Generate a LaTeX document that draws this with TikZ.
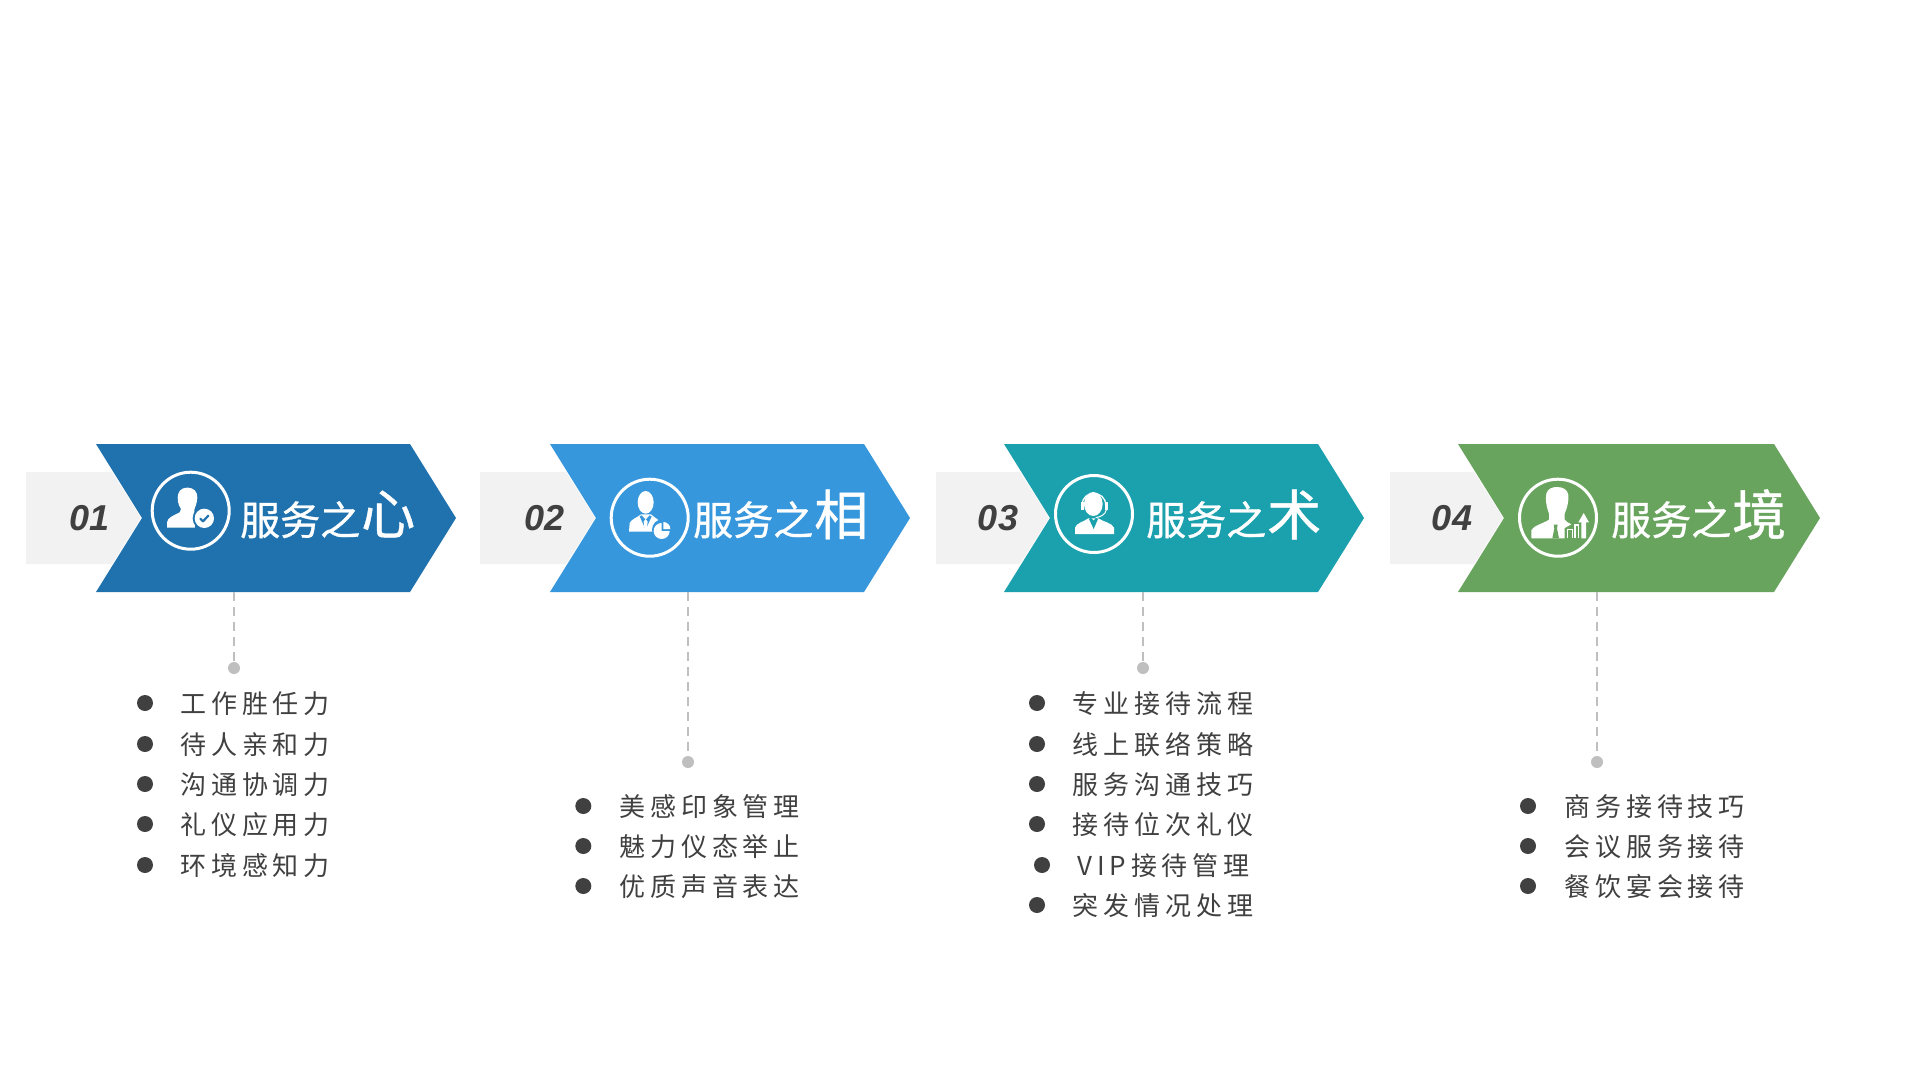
\documentclass[tikz,border=0pt]{standalone}
\usepackage{fontspec}
\setmainfont{Liberation Sans}
\newfontfamily\cjkbody[LetterSpace=19]{Noto Sans CJK SC}
\newfontfamily\cjktitle[FakeBold=0.8]{Noto Sans CJK SC}
\definecolor{bluedark}{HTML}{2072AE}
\definecolor{bluelight}{HTML}{3797DD}
\definecolor{tealc}{HTML}{1BA1AE}
\definecolor{greenc}{HTML}{69A45E}
\definecolor{tabgray}{HTML}{F2F2F2}
\definecolor{ink}{HTML}{404040}
\definecolor{leadergray}{HTML}{BFBFBF}
\tikzset{
  numlabel/.style={inner sep=0pt,text=ink,font=\fontsize{36}{36}\selectfont\bfseries\itshape},
  titlesmall/.style={anchor=base west,inner sep=0pt,text=white,font=\fontsize{40}{40}\selectfont\cjktitle},
  titlebig/.style={anchor=base west,inner sep=0pt,text=white,font=\fontsize{54}{54}\selectfont\cjktitle},
  item/.style={anchor=base west,inner sep=0pt,text=ink,font=\fontsize{26}{26}\selectfont\cjkbody},
  bullet/.style={circle,fill=ink,inner sep=0pt,minimum size=16pt},
  enddot/.style={circle,fill=leadergray,inner sep=0pt,minimum size=12pt},
  leader/.style={draw=leadergray,line width=2pt,dash pattern=on 9pt off 6pt},
  ring/.style={circle,draw=white,line width=3pt,inner sep=0pt,minimum size=77pt},
  iconlocal/.style={x=0.33333pt,y=-0.33333pt},
}
% #1 tab left, #2 chevron left, #3 chevron shoulder right, #4 colour
\newcommand{\ChevBox}[4]{%
  \fill[tabgray] (#1,472) -- ({#2+16},472) -- ({#2+45},518) -- ({#2+16},564) -- (#1,564) -- cycle;
  \fill[#4] (#2,444) -- (#3,444) -- ({#3+46},518) -- (#3,592) -- (#2,592) -- ({#2+46},518) -- cycle;
}
\begin{document}
\begin{tikzpicture}[x=1pt,y=-1pt]
\useasboundingbox[fill=white] (0,0) rectangle (1920,1080);

\ChevBox{26}{96}{410}{bluedark}
\ChevBox{480}{550}{864}{bluelight}
\ChevBox{936}{1004}{1318}{tealc}
\ChevBox{1390}{1458}{1774}{greenc}

\node[numlabel] (n1) at (89.5,518) {01};
\node[numlabel] (n2) at (544.5,518) {02};
\node[numlabel] (n3) at (998,518) {03};
\node[numlabel] (n4) at (1452,518) {04};

\node[ring] (r1) at (190.7,510.7) {};
\node[ring] (r2) at (649.7,517.7) {};
\node[ring] (r3) at (1094,514) {};
\node[ring] (r4) at (1558,517.7) {};

% icon 1
\begin{scope}[shift={(145,465)},iconlocal]
  \fill[white] (66,188) -- (66,172) .. controls (68,158) and (84,152) .. (104,142)
    -- (108,132) .. controls (98,118) and (96,100) .. (100,86)
    .. controls (104,72) and (118,67) .. (130,68)
    .. controls (146,69) and (158,80) .. (157,98)
    .. controls (156,116) and (150,126) .. (148,134) -- (150,188) -- cycle;
  \fill[bluedark] (178,160) circle (35);
  \fill[white] (178,160) circle (29);
  \draw[bluedark,line width=2.2pt,line cap=round,line join=round] (166,161) -- (174,169) -- (190,152);
\end{scope}
% icon 2
\begin{scope}[shift={(605,473)},iconlocal]
  \fill[white] (72,176) -- (74,150) .. controls (80,138) and (96,134) .. (108,124)
    -- (138,124) .. controls (148,134) and (160,138) .. (168,150) -- (168,176) -- cycle;
  \fill[bluelight] (104,130) -- (122,170) -- (140,130) -- (134,127) -- (122,140) -- (110,127) -- cycle;
  \fill[white] (122,138) -- (128,146) -- (125,172) -- (119,172) -- (116,146) -- cycle;
  \fill[white] (122,88) ellipse (24 and 34);
  \fill[bluelight] (172,170) circle (31);
  \fill[white] (170,174) -- (170,150) arc (-90:-360:24) -- cycle;
  \fill[white] (175,168) -- (175,147) arc (-90:0:21) -- cycle;
\end{scope}
% icon 3
\begin{scope}[shift={(1049,469)},iconlocal]
  \fill[white] (78,195) -- (78,176) .. controls (82,162) and (104,158) .. (118,148)
    -- (148,148) .. controls (162,158) and (190,162) .. (195,176) -- (195,195) -- cycle;
  \fill[tealc] (120,150) -- (134,180) -- (147,150) -- (141,146) -- (134,155) -- (126,146) -- cycle;
  \fill[white] (133,105) ellipse (28 and 36);
  \draw[white,line width=1.3pt] (100,108) .. controls (98,62) and (170,62) .. (170,108);
  \fill[white] (96,98) rectangle (104,122);
  \fill[white] (167,98) rectangle (176,122);
  \draw[white,line width=1pt] (172,122) .. controls (170,138) and (152,144) .. (140,146);
\end{scope}
% icon 4
\begin{scope}[shift={(1513,473)},iconlocal]
  \fill[white] (55,196) -- (55,172) .. controls (60,158) and (90,152) .. (108,140)
    -- (108,122) .. controls (100,100) and (96,78) .. (100,62)
    .. controls (104,46) and (120,42) .. (132,42)
    .. controls (150,42) and (164,50) .. (166,66)
    .. controls (168,84) and (162,106) .. (155,122)
    -- (155,140) .. controls (160,146) and (166,150) .. (175,154)
    -- (155,165) -- (155,196) -- cycle;
  \fill[greenc] (122,155) -- (134,155) -- (132,166) -- (138,196) -- (118,196) -- (124,166) -- cycle;
  \fill[white] (162,167) rectangle (180,196);
  \fill[greenc] (166,172) rectangle (176,196);
  \fill[white] (184,154) rectangle (199,196);
  \fill[greenc] (188,159) rectangle (195,196);
  \fill[white] (205,196) -- (205,148) -- (196,148) -- (212,120) -- (228,148) -- (219,148) -- (219,196) -- cycle;
\end{scope}

% titles
\node[titlesmall] (t1a) at (240,535) {服务之};
\node[titlebig] (t1b) at (361,534) {心};
\node[titlesmall] (t2a) at (693,535) {服务之};
\node[titlebig] (t2b) at (814,535) {相};
\node[titlesmall] (t3a) at (1146,535) {服务之};
\node[titlebig] (t3b) at (1267,535) {术};
\node[titlesmall] (t4a) at (1611,535) {服务之};
\node[titlebig] (t4b) at (1732,535) {境};

% leaders
\coordinate (s1) at (234,592);
\coordinate (s2) at (688,592);
\coordinate (s3) at (1143,592);
\coordinate (s4) at (1597,592);
\node[enddot] (d1) at (234,668) {};
\node[enddot] (d2) at (688,762) {};
\node[enddot] (d3) at (1143,668) {};
\node[enddot] (d4) at (1597,762) {};
\draw[leader] (s1) -- (d1);
\draw[leader] (s2) -- (d2);
\draw[leader] (s3) -- (d3);
\draw[leader] (s4) -- (d4);

% column 1
\foreach \nm/\yy/\tx in {a/703/工作胜任力,b/744/待人亲和力,c/784/沟通协调力,d/824/礼仪应用力,e/865/环境感知力}{
  \node[bullet] (b1\nm) at (145,\yy) {};
  \node[item] (i1\nm) at (180,\yy+10) {\tx};
}
% column 2
\foreach \nm/\yy/\tx in {a/806/美感印象管理,b/846/魅力仪态举止,c/886/优质声音表达}{
  \node[bullet] (b2\nm) at (583.3,\yy) {};
  \node[item] (i2\nm) at (619,\yy+10) {\tx};
}
% column 3
\foreach \nm/\yy/\tx in {a/703/专业接待流程,b/744/线上联络策略,c/784/服务沟通技巧,d/824/接待位次礼仪,f/905/突发情况处理}{
  \node[bullet] (b3\nm) at (1037,\yy) {};
  \node[item] (i3\nm) at (1072.5,\yy+10) {\tx};
}
\node[bullet] (b3e) at (1042,865) {};
\node[item] (i3e) at (1077,875) {VIP接待管理};
% column 4
\foreach \nm/\yy/\tx in {a/806/商务接待技巧,b/846/会议服务接待,c/886/餐饮宴会接待}{
  \node[bullet] (b4\nm) at (1528,\yy) {};
  \node[item] (i4\nm) at (1564,\yy+10) {\tx};
}
\end{tikzpicture}
\end{document}
